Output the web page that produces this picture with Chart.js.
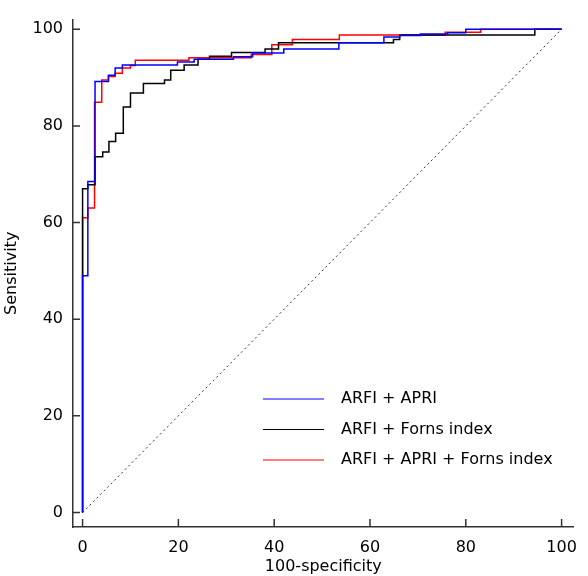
<!DOCTYPE html>
<html>
<head>
<meta charset="utf-8">
<script src="https://cdn.jsdelivr.net/npm/chart.js@4"></script>
<style>
  html, body { margin: 0; padding: 0; background: #fff; }
  #wrap { width: 588px; height: 576px; }
</style>
</head>
<body>
<div id="wrap"><canvas id="myChart" width="588" height="576"></canvas></div>
<script>
// step points: x where the curve jumps, y after the jump
const apriX = [0, 0, 1.1, 2.6, 5.4, 6.8, 8.3, 19.8, 23.3, 31.5, 35.5, 42, 53.5, 62.9, 66.2, 70.5, 76.2, 80, 100];
const apriY = [0, 49, 68.5, 89.2, 90.5, 92.0, 92.6, 93.2, 93.8, 94.3, 95.1, 95.9, 97.2, 98.4, 98.7, 99.0, 99.3, 100, 100];

const fornsX = [0, 0, 1.1, 2.6, 4.2, 5.5, 6.9, 8.5, 10, 12.7, 17.1, 18.4, 21.2, 24.1, 26.5, 31.1, 38.1, 40.9, 64.9, 66.2, 94.4, 100];
const fornsY = [0, 67, 67.8, 73.6, 74.6, 76.8, 78.5, 83.9, 86.8, 88.8, 89.5, 91.5, 92.6, 93.8, 94.4, 95.2, 95.9, 97.2, 97.9, 98.8, 100, 100];

const bothX = [0, 0, 1.1, 2.5, 4.0, 5.4, 6.8, 8.3, 10, 11, 22.2, 35.2, 39.5, 43.8, 53.6, 75.7, 83.1, 100];
const bothY = [0, 61, 63, 84.9, 89.5, 90.2, 90.9, 92.0, 92.5, 93.6, 94.1, 94.8, 96.8, 97.9, 98.8, 99.4, 100, 100];

const refLine = [0, 100];
const tickValues = [0, 20, 40, 60, 80, 100];
const labels = ['ARFI + APRI', 'ARFI + Forns index', 'ARFI + APRI + Forns index'];

const toPoints = (xs, ys) => xs.map((x, i) => ({ x: x, y: ys[i] }));

Chart.defaults.font.family = 'DejaVu Sans';
Chart.defaults.font.size = 16;
Chart.defaults.color = '#000';

// inward tick marks, like the original
const tickMarks = {
  id: 'tickMarks',
  afterDraw(chart) {
    const { ctx, chartArea, scales: { x, y } } = chart;
    ctx.save();
    ctx.strokeStyle = '#333';
    ctx.lineWidth = 1.5;
    ctx.beginPath();
    tickValues.forEach(v => {
      const px = x.getPixelForValue(v);
      ctx.moveTo(px, chartArea.bottom);
      ctx.lineTo(px, chartArea.bottom - 8);
      const py = y.getPixelForValue(v);
      ctx.moveTo(chartArea.left, py);
      ctx.lineTo(chartArea.left + 7, py);
    });
    ctx.stroke();
    ctx.restore();
  }
};

// legend box inside the plot, lower right
const innerLegend = {
  id: 'innerLegend',
  afterDraw(chart) {
    const ctx = chart.ctx;
    ctx.save();
    ctx.font = '16px "DejaVu Sans"';
    ctx.textBaseline = 'middle';
    ctx.fillStyle = '#000';
    chart.data.datasets.slice(0, 3).forEach((ds, i) => {
      const rowY = 399 + i * 30.5;
      ctx.strokeStyle = ds.borderColor;
      ctx.lineWidth = 1.2;
      ctx.beginPath();
      ctx.moveTo(263, rowY);
      ctx.lineTo(324, rowY);
      ctx.stroke();
      ctx.fillText(ds.label, 341, rowY);
    });
    ctx.restore();
  }
};

const ctx = document.getElementById('myChart').getContext('2d');

const data = {
  datasets: [
    {
      label: labels[0],
      data: toPoints(apriX, apriY),
      borderColor: '#0000ff',
      borderWidth: 1.5,
      stepped: 'before'
    },
    {
      label: labels[1],
      data: toPoints(fornsX, fornsY),
      borderColor: '#000000',
      borderWidth: 1.5,
      stepped: 'before'
    },
    {
      label: labels[2],
      data: toPoints(bothX, bothY),
      borderColor: '#ff0000',
      borderWidth: 1.5,
      stepped: 'before'
    },
    {
      label: 'reference',
      data: toPoints(refLine, refLine),
      borderColor: '#333',
      borderWidth: 1,
      borderDash: [2, 3]
    }
  ]
};

const config = {
  type: 'line',
  data: data,
  options: {
    responsive: false,
    animation: false,
    layout: { padding: { top: 10, right: 5, left: 0, bottom: 0 } },
    elements: { point: { radius: 0 } },
    plugins: {
      legend: { display: false },
      tooltip: { enabled: false }
    },
    scales: {
      x: {
        type: 'linear',
        min: -2,
        max: 102.5,
        afterBuildTicks: s => { s.ticks = tickValues.map(v => ({ value: v })); },
        afterFit: s => { s.height = 49; },
        grid: { display: false, drawTicks: false },
        border: { display: true, color: '#333', width: 1.5 },
        ticks: { padding: 11, maxRotation: 0 },
        title: {
          display: true,
          text: '100-specificity',
          padding: { top: 0, bottom: 0 }
        }
      },
      y: {
        type: 'linear',
        min: -3,
        max: 102,
        afterBuildTicks: s => { s.ticks = tickValues.map(v => ({ value: v })); },
        afterFit: s => { s.width = 73; },
        grid: { display: false, drawTicks: false },
        border: { display: true, color: '#333', width: 1.5 },
        ticks: { padding: 10 },
        title: {
          display: true,
          text: 'Sensitivity',
          padding: { top: 2, bottom: 0 }
        }
      }
    }
  },
  plugins: [tickMarks, innerLegend]
};

new Chart(ctx, config);
</script>
</body>
</html>
